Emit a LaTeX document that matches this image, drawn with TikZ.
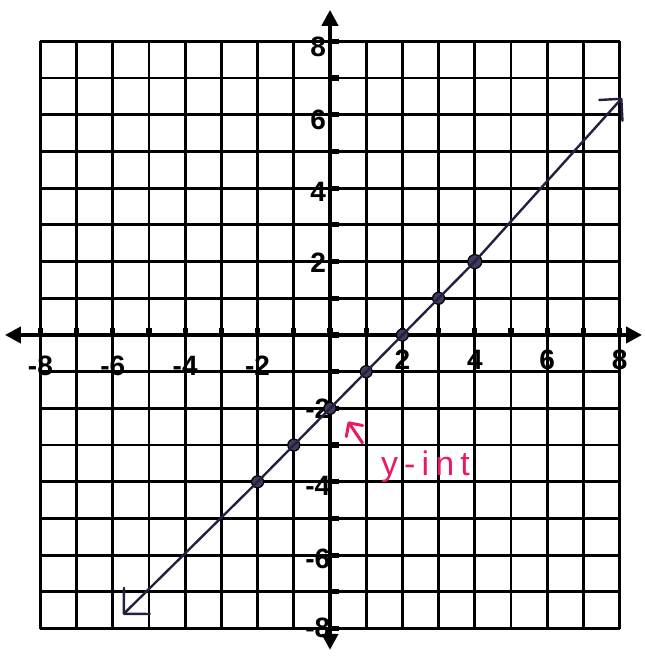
\documentclass[tikz,border=0pt]{standalone}
\usepackage{fontspec}
\setmainfont{Liberation Sans}
\newfontfamily\handfont{Liberation Sans}[LetterSpace=18]
\usetikzlibrary{arrows.meta}
\definecolor{inkline}{RGB}{40,30,64}
\definecolor{dotfill}{RGB}{62,60,92}
\definecolor{pinkink}{RGB}{232,26,102}
\begin{document}
\begin{tikzpicture}[x=18.1pt,y=18.35pt,
  gridline/.style={line width=1.4pt, black},
  axisline/.style={line width=2.4pt, black,
    {Triangle[length=8pt,width=8pt]}-{Triangle[length=8pt,width=8pt]}},
  tickmark/.style={line width=2.6pt, black},
  numlabel/.style={font=\fontsize{14}{14}\selectfont\bfseries, inner sep=0pt},
  graphline/.style={line width=1.2pt, inkline, line join=round,
    {Straight Barb[angle=90:13pt, round]}-{Straight Barb[angle=90:11pt, round]}},
  pt/.style={circle, fill=dotfill, draw=black, line width=0.6pt, minimum size=6pt, inner sep=0pt},
  pinkarrow/.style={line width=1.5pt, pinkink, -{Straight Barb[angle=90:7pt, round]}},
  pinklabel/.style={font=\handfont\fontsize{17}{17}\selectfont, text=pinkink, inner sep=0pt}
]
\useasboundingbox (-9.116,-8.747) rectangle (8.702,9.128);
% grid
\foreach \i in {-8,...,8} {
  \draw[gridline] (\i,-8) -- (\i,8);
  \draw[gridline] (-8,\i) -- (8,\i);
}
% axes
\coordinate (xl) at (-8.98,0);
\coordinate (xr) at (8.62,0);
\coordinate (yb) at (0,-8.58);
\coordinate (yt) at (0,8.86);
\draw[axisline] (xl) -- (xr);
\draw[axisline] (yb) -- (yt);
% ticks
\foreach \i in {-8,...,8} {
  \draw[tickmark] (\i,0) -- (\i,0.2);
  \draw[tickmark] (0,\i) -- (0.24,\i);
}
% x labels
\node[numlabel] (xlabm8) at (-8,-0.85) {-8};
\node[numlabel] (xlabm6) at (-6,-0.85) {-6};
\node[numlabel] (xlabm4) at (-4,-0.85) {-4};
\node[numlabel] (xlabm2) at (-2,-0.85) {-2};
\node[numlabel] (xlabp2) at (2,-0.68) {2};
\node[numlabel] (xlabp4) at (4,-0.68) {4};
\node[numlabel] (xlabp6) at (6,-0.68) {6};
\node[numlabel] (xlabp8) at (8,-0.68) {8};
% y labels
\node[numlabel, anchor=east] (ylabp8) at (-0.1,7.85) {8};
\node[numlabel, anchor=east] (ylabp6) at (-0.1,5.86) {6};
\node[numlabel, anchor=east] (ylabp4) at (-0.1,3.9) {4};
\node[numlabel, anchor=east] (ylabp2) at (-0.1,1.96) {2};
\node[numlabel, anchor=east] (ylabm2) at (0.02,-2.0) {-2};
\node[numlabel, anchor=east] (ylabm4) at (0.02,-4.1) {-4};
\node[numlabel, anchor=east] (ylabm6) at (0.02,-6.1) {-6};
\node[numlabel, anchor=east] (ylabm8) at (0.02,-7.98) {-8};
% points
\node[pt] (pm2) at (-2,-4) {};
\node[pt] (pm1) at (-1,-3) {};
\node[pt] (p0) at (0,-2) {};
\node[pt] (p1) at (1,-1) {};
\node[pt] (p2) at (2,0) {};
\node[pt] (p3) at (3,1) {};
\node[pt, minimum size=7pt] (p4) at (4,2) {};
% line
\coordinate (tipll) at (-5.72,-7.62);
\coordinate (tipur) at (8.07,6.46);
\draw[graphline] (tipll) -- (pm2.center) -- (pm1.center) -- (p0.center) -- (p1.center)
  -- (p2.center) -- (p3.center) -- (p4.center) -- (tipur);
% y-intercept annotation
\coordinate (yintTail) at (0.91,-2.96);
\coordinate (yintTip) at (0.5,-2.36);
\draw[pinkarrow] (yintTail) -- (yintTip);
\node[pinklabel, anchor=base west] (yint) at (1.4,-3.82) {y-int};
\end{tikzpicture}
\end{document}
